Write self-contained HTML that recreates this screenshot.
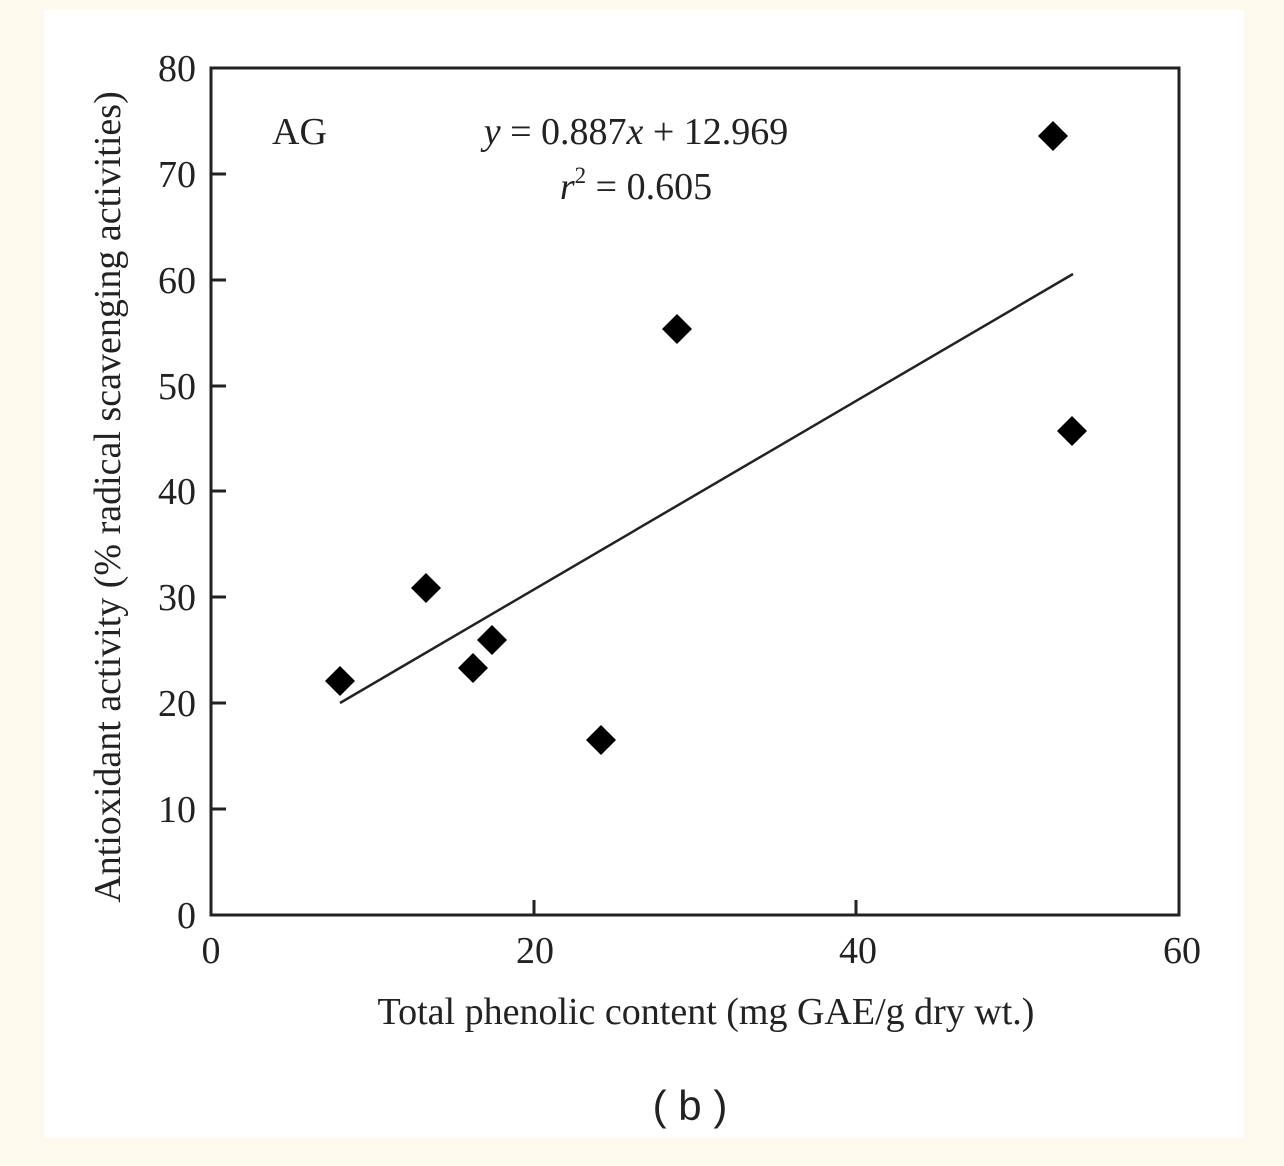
<!DOCTYPE html>
<html><head><style>
body{margin:0;background:#fdfaed;}
</style></head><body>
<svg width="1284" height="1166" xmlns="http://www.w3.org/2000/svg" style="display:block">
<rect x="0" y="0" width="1284" height="1166" fill="#fdfaed"/>
<rect x="44" y="10" width="1200" height="1128" fill="#ffffff"/>
<g font-family="Liberation Serif, serif" fill="#222" font-size="38">
<rect x="211" y="68" width="968" height="847" fill="none" stroke="#222" stroke-width="3"/>
<g stroke="#222" stroke-width="3">
<line x1="211" y1="809" x2="226" y2="809"/><line x1="211" y1="703" x2="226" y2="703"/>
<line x1="211" y1="597" x2="226" y2="597"/><line x1="211" y1="491" x2="226" y2="491"/>
<line x1="211" y1="386" x2="226" y2="386"/><line x1="211" y1="280" x2="226" y2="280"/>
<line x1="211" y1="174" x2="226" y2="174"/>
<line x1="534" y1="915" x2="534" y2="900"/><line x1="856" y1="915" x2="856" y2="900"/>
</g>
<g text-anchor="end">
<text x="196" y="928">0</text><text x="196" y="822">10</text><text x="196" y="716">20</text>
<text x="196" y="610">30</text><text x="196" y="504">40</text><text x="196" y="399">50</text>
<text x="196" y="293">60</text><text x="196" y="187">70</text><text x="196" y="81">80</text>
</g>
<g text-anchor="middle">
<text x="211" y="963">0</text><text x="535" y="963">20</text><text x="858" y="963">40</text><text x="1182" y="963">60</text>
<text x="706" y="1024">Total phenolic content (mg GAE/g dry wt.)</text>
<text transform="translate(120,497) rotate(-90)">Antioxidant activity (% radical scavenging activities)</text>
</g>
<text x="272" y="144">AG</text>
<text x="636" y="144" text-anchor="middle"><tspan font-style="italic">y</tspan> = 0.887<tspan font-style="italic">x</tspan> + 12.969</text>
<text x="636" y="199" text-anchor="middle"><tspan font-style="italic">r</tspan><tspan font-size="23" dy="-16">2</tspan><tspan dy="16"> = 0.605</tspan></text>
<line x1="340" y1="703" x2="1073" y2="274" stroke="#222" stroke-width="2.5"/>
<g fill="#000">
<path d="M340 666 l15 15 l-15 15 l-15 -15z"/>
<path d="M426 573 l15 15 l-15 15 l-15 -15z"/>
<path d="M473 653 l15 15 l-15 15 l-15 -15z"/>
<path d="M492 625 l15 15 l-15 15 l-15 -15z"/>
<path d="M601 725 l15 15 l-15 15 l-15 -15z"/>
<path d="M677 314 l15 15 l-15 15 l-15 -15z"/>
<path d="M1053 121 l15 15 l-15 15 l-15 -15z"/>
<path d="M1072 416 l15 15 l-15 15 l-15 -15z"/>
</g>
</g>
<text x="690" y="1120" text-anchor="middle" font-family="Liberation Sans, sans-serif" font-size="42" fill="#222">( b )</text>
</svg>
</body></html>
